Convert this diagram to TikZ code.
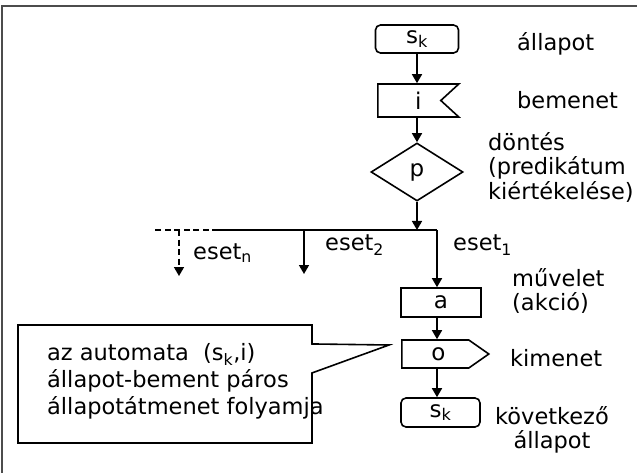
\documentclass[tikz,border=0pt]{standalone}
\usepackage{fontspec}
\setmainfont{DejaVu Sans}
\usetikzlibrary{shapes.symbols,shapes.callouts,shapes.geometric,arrows.meta}
\tikzset{
  lbl/.style={font=\fontsize{22.5}{24.5}\selectfont, inner sep=0pt, anchor=west},
  fbox/.style={draw, line width=1.6pt, minimum width=80pt, minimum height=29pt, inner sep=0pt,
               font=\fontsize{23}{24}\selectfont},
  statebox/.style={fbox, rounded corners=5pt},
  inbox/.style={fbox, shape=signal, signal to=nowhere, signal from=east, signal pointer angle=85, anchor=west},
  outbox/.style={fbox, shape=signal, signal to=east, signal pointer angle=70, anchor=west},
  decbox/.style={fbox, shape=diamond, minimum width=92pt, minimum height=58pt},
  conn/.style={line width=1.6pt, -{Triangle[length=9pt,width=10pt]}},
  plain/.style={line width=1.6pt},
  dsh/.style={dash pattern=on 6pt off 3.5pt},
}
\begin{document}
\begin{tikzpicture}[x=1pt,y=-1pt]
\useasboundingbox (0,0) rectangle (637,473);
\draw[black!70, line width=1.5pt] (2,473) -- (2,6) -- (637,6);

% upper column
\node[statebox, minimum width=83pt, minimum height=28pt] (sk1) at (417,39) {s\textsubscript{k}};
\node[inbox, minimum width=81pt, minimum height=33pt] (in) at (377,100.5) {\hspace*{18pt}i};
\node[decbox] (p) at (417,172) {p};

% junction and branches
\coordinate (j) at (417,230);
\coordinate (e1) at (437,230);
\coordinate (e2) at (304,230);
\coordinate (e2end) at (304,274);
\coordinate (dstart) at (218,230);
\coordinate (lend) at (155,230);
\coordinate (en) at (179,230);
\coordinate (enend) at (179,276);
\coordinate (col) at (437,0);
\coordinate (ucol) at (417,0);

% lower column
\node[fbox, minimum width=80pt, minimum height=29pt] (a) at (441,302.5) {a};
\node[outbox, minimum width=87pt, minimum height=28pt] (o) at (401,354) {\hspace*{6pt}o};
\node[statebox, minimum width=79pt, minimum height=29pt] (sk2) at (440.5,412.5) {s\textsubscript{k}};

% connectors
\draw[conn] (sk1.south -| ucol) -- (in.north -| ucol);
\draw[conn] (in.south -| ucol) -- (p.north);
\draw[conn] (p) -- (j);
\draw[plain] (e1) -- (dstart);
\draw[plain, dsh] (dstart) -- (lend);
\draw[conn] (e1) -- (a.north -| col);
\draw[conn] (e2) -- (e2end);
\draw[conn, dsh] (en) -- (enend);
\draw[conn] (a.south -| col) -- (o.north -| col);
\draw[conn] (o.south -| col) -- (sk2.north -| col);

% labels
\node[lbl] (l1) at (517,44) {állapot};
\node[lbl] (l2) at (517,100) {bemenet};
\node[lbl, align=left] (l3) at (488,167) {döntés\\(predikátum\\kiértékelése)};
\node[lbl] (l4) at (453,245) {eset\textsubscript{1}};
\node[lbl] (l5) at (325,245) {eset\textsubscript{2}};
\node[lbl] (l6) at (193,253) {eset\textsubscript{n}};
\node[lbl, align=left] (l7) at (512,291) {művelet\\(akció)};
\node[lbl] (l8) at (510,358) {kimenet};
\node[lbl, align=center] (l9) at (495,430) {következő\\állapot};

% callout
\coordinate (tip) at (389,345);
\node[rectangle callout, draw, line width=1.6pt, minimum width=294pt, minimum height=118pt,
      inner sep=0pt, callout absolute pointer={(tip)}, callout pointer width=29pt]
      (call) at (165,384) {};
\node[lbl, align=left, font=\fontsize{22.5}{27}\selectfont] (ctext) at (47,381)
  {az automata~ (s\textsubscript{k},i)\\állapot-bement páros\\állapotátmenet folyamja};
\end{tikzpicture}
\end{document}
